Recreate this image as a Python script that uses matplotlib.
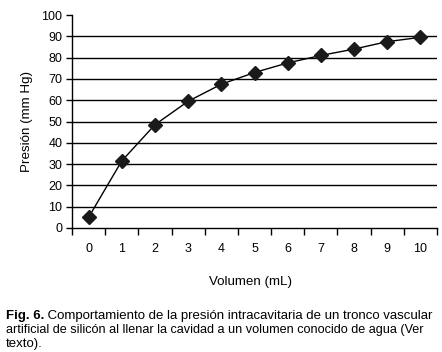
import matplotlib.pyplot as plt
import numpy as np

plt.rcParams['font.family'] = ['Liberation Sans', 'DejaVu Sans']

# datos
volumen = ['0', '1', '2', '3', '4', '5', '6', '7', '8', '9', '10']
presion = [5, 31.5, 48.5, 59.5, 67.5, 73, 77.5, 81, 84, 87.5, 89.5]

fig = plt.figure(figsize=(4.42, 3.52), dpi=100)
ax = fig.add_axes([72/442, 1-228/352, 365/442, 213/352])

x = np.arange(len(volumen))
ax.plot(x, presion, color='black', lw=1, marker='D', ms=7, mfc='#1a1a1a', mec='#1a1a1a')

ax.set_xlim(-0.5, len(volumen) - 0.5)
ax.set_ylim(0, 100)
ax.set_yticks(range(0, 101, 10))
for yv in range(10, 100, 10):
    ax.axhline(yv, color='black', lw=1, zorder=0)

# ticks entre categorias, etiquetas en el centro
ax.set_xticks(np.arange(-0.5, len(volumen)), minor=False)
ax.set_xticklabels([])
ax.set_xticks(x, minor=True)
ax.set_xticklabels(volumen, minor=True)
ax.tick_params(axis='x', which='major', direction='out', length=5, width=1)
ax.tick_params(axis='x', which='minor', length=0, pad=11, labelsize=9)
ax.tick_params(axis='y', direction='out', length=4, width=1, labelsize=9, pad=3)

for s in ['top', 'right']:
    ax.spines[s].set_visible(False)
ax.spines['left'].set_linewidth(1)
ax.spines['bottom'].set_linewidth(1)

ax.set_ylabel('Presión (mm Hg)', fontsize=9.6, labelpad=6)
fig.text(251/442, 1-282/352, 'Volumen (mL)', ha='center', va='center', fontsize=9.6)

# pie de figura
cap_size = 9.5
t = fig.text(6/442, 1-316/352, 'Fig. 6.', fontsize=cap_size, fontweight='bold', va='center')
ax.annotate(' Comportamiento de la presión intracavitaria de un tronco vascular',
            xy=(1, 0.5), xycoords=t, va='center', fontsize=cap_size, annotation_clip=False)
fig.text(6/442, 1-330/352, 'artificial de silicón al llenar la cavidad a un volumen conocido de agua (Ver',
         fontsize=9.1, va='center')
fig.text(6/442, 1-344/352, 'texto).', fontsize=cap_size, va='center')

plt.savefig('out.png', dpi=100)
